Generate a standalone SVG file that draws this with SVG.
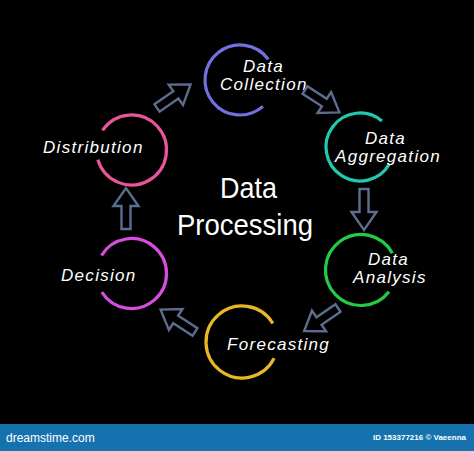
<svg xmlns="http://www.w3.org/2000/svg" width="474" height="451" viewBox="0 0 474 451">
<style>
.ring{fill:none;stroke-width:3.2;stroke-linecap:butt}
.lbl{font-family:"Liberation Sans",Arial,sans-serif;font-style:italic;font-size:17px;letter-spacing:1.3px;fill:#ffffff}
.title{font-family:"Liberation Sans",Arial,sans-serif;font-size:29px;fill:#ffffff}
.arr{fill:#000000;stroke:#5d6d8e;stroke-width:2.4;stroke-linejoin:miter}
</style>
<defs>
<path id="blk" d="M0,-4.5 H23 V-12.5 L41,0 L23,12.5 V4.5 H0 Z"/>
</defs>
<rect x="0" y="0" width="474" height="451" fill="#000000"/>

<g id="center-title">
<text class="title" x="220" y="198" textLength="57" lengthAdjust="spacingAndGlyphs">Data</text>
<text class="title" x="177" y="235" textLength="136" lengthAdjust="spacingAndGlyphs">Processing</text>
</g>

<g id="node-collection">
<path class="ring" stroke="#7370e4" d="M262.96,106.41 A35,35 0 1 1 268.32,59.43"/>
<text class="lbl" x="243" y="71.5">Data</text>
<text class="lbl" x="220" y="90">Collection</text>
</g>

<g id="node-aggregation">
<path class="ring" stroke="#22c8b0" d="M389.44,164 A34,34 0 1 1 381.86,120.95"/>
<text class="lbl" x="365" y="144">Data</text>
<text class="lbl" x="335" y="162">Aggregation</text>
</g>

<g id="node-analysis">
<path class="ring" stroke="#24cc46" d="M388.97,291.86 A35.5,35.5 0 1 1 392.34,253.33"/>
<text class="lbl" x="368" y="265">Data</text>
<text class="lbl" x="353" y="283">Analysis</text>
</g>

<g id="node-forecasting">
<path class="ring" stroke="#e6b824" d="M274.08,358.34 A36,36 0 1 1 272.86,323.46"/>
<text class="lbl" x="227" y="350">Forecasting</text>
</g>

<g id="node-decision">
<path class="ring" stroke="#d64ee0" d="M101.5,255.47 A35,35 0 1 1 101.82,292.05"/>
<text class="lbl" x="61" y="281">Decision</text>
</g>

<g id="node-distribution">
<path class="ring" stroke="#e8559a" d="M102.48,130.43 A35,35 0 1 1 97.86,159.65"/>
<text class="lbl" x="43" y="153">Distribution</text>
</g>

<g id="connectors">
<use href="#blk" class="arr" transform="translate(157,108) rotate(-35)"/>
<use href="#blk" class="arr" transform="translate(305,90) rotate(33)"/>
<use href="#blk" class="arr" transform="translate(364,189) rotate(90)"/>
<use href="#blk" class="arr" transform="translate(338,308) rotate(145.6)"/>
<use href="#blk" class="arr" transform="translate(195,332) rotate(213)"/>
<use href="#blk" class="arr" transform="translate(126,229) rotate(-90)"/>
</g>

<g id="footer">
<rect x="0" y="424" width="474" height="27" fill="#1672ae"/>
<text x="6" y="442" font-family="'Liberation Sans',Arial,sans-serif" font-size="12" fill="#ffffff">dreamstime.com</text>
<text x="466" y="440" text-anchor="end" font-family="'Liberation Sans',Arial,sans-serif" font-size="8" font-weight="bold" fill="#ffffff">ID 153377216 © Vaeenna</text>
</g>
</svg>
